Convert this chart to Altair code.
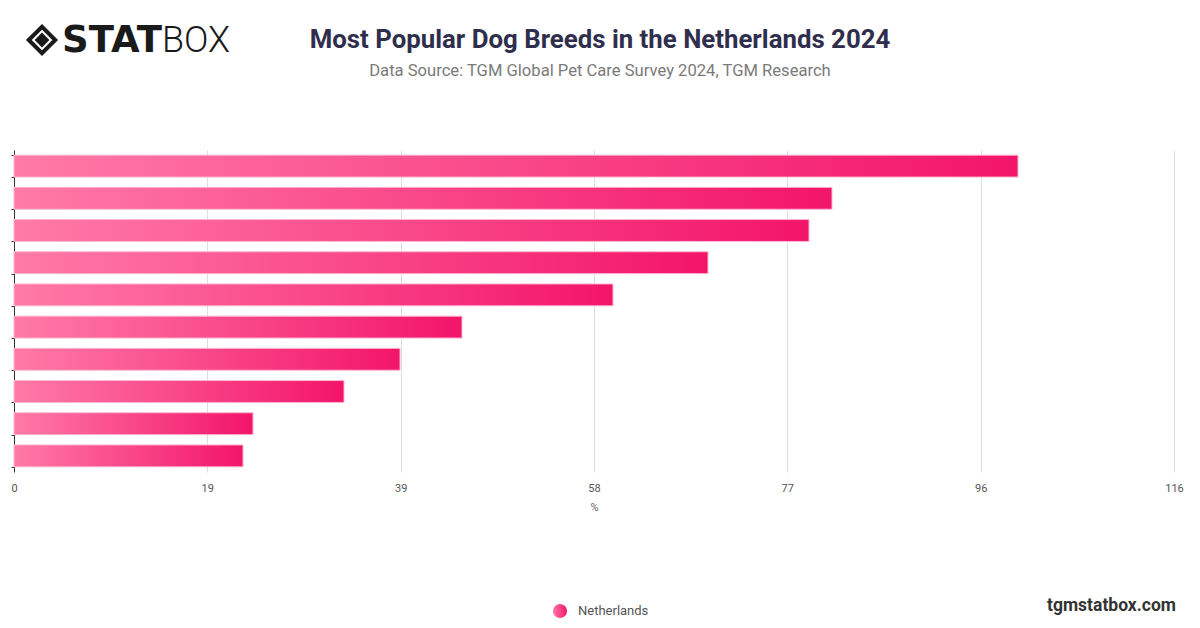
import altair as alt
import pandas as pd

# ---- data (breed names are not shown on the chart) ----
breeds = ["Labrador Retriever", "Mixed Breed", "Golden Retriever", "French Bulldog",
          "German Shepherd", "Jack Russell Terrier", "Chihuahua", "Border Collie",
          "Dachshund", "Beagle"]
values = [100.4, 81.8, 79.5, 69.4, 59.9, 44.8, 38.6, 33.0, 23.9, 22.9]
series_name = "Netherlands"

tick_values = [0, 19.33, 38.67, 58, 77.33, 96.67, 116]
tick_labels = ["0", "19", "39", "58", "77", "96", "116"]

title_text = "Most Popular Dog Breeds in the Netherlands 2024"
subtitle_text = "Data Source: TGM Global Pet Care Survey 2024, TGM Research"
watermark_text = "tgmstatbox.com"

df = pd.DataFrame({"breed": breeds, "value": values, "series": series_name})
one = pd.DataFrame({"k": [0]})

FONT = "Roboto"
PL, PT = 14, 150  # plot origin on the page

grad = alt.Gradient(
    gradient="linear",
    stops=[alt.GradientStop(color="#ff7aa7", offset=0),
           alt.GradientStop(color="#f3156a", offset=1)],
    x1=0, x2=1, y1=0, y2=0,
)

label_expr = f"{tick_labels}[indexof({tick_values}, datum.value)]"

bars = alt.Chart(df).mark_bar(
    fill=grad, stroke="#ffb6d0", strokeWidth=1, cornerRadius=0
).encode(
    x=alt.X("value:Q", title="%",
            scale=alt.Scale(domain=[0, 116], nice=False, zero=True),
            axis=alt.Axis(values=tick_values, labelExpr=label_expr, grid=True,
                          gridColor="#dedede", domain=False, ticks=False,
                          labelPadding=10, labelFont=FONT, labelFontSize=11,
                          labelColor="#555", titleFont=FONT, titleFontSize=11,
                          titleFontWeight="normal", titleColor="#666",
                          titlePadding=8, labelFlush=False)),
    y=alt.Y("breed:N", sort=breeds, title=None,
            scale=alt.Scale(paddingInner=0.32, paddingOuter=0.16),
            axis=alt.Axis(labels=False, ticks=True, tickSize=3, tickColor="#333",
                          tickBand="extent",
                          domain=True, domainColor="#333", domainWidth=1, grid=False)),
    tooltip=["breed:N", "value:Q"],
)

def txt(text, x, y, size, weight="normal", color="#333", align="center", font=FONT):
    return alt.Chart(one).mark_text(
        text=text, fontSize=size, fontWeight=weight, color=color, align=align,
        baseline="middle", font=font
    ).encode(x=alt.value(x - PL), y=alt.value(y - PT))

title = txt(title_text, 600, 40, 25.8, "bold", "#2f2e4d")
subtitle = txt(subtitle_text, 600, 71, 16.6, "normal", "#7a7a7a")
watermark = txt(watermark_text, 1176, 606, 17.5, "bold", "#333", align="right")
legend_text = txt(series_name, 578, 611, 13, "normal", "#555", align="left")

legend_dot = alt.Chart(one).mark_point(
    shape="circle", filled=True, size=200, fill=grad, opacity=1, strokeWidth=0
).encode(x=alt.value(560 - PL), y=alt.value(611 - PT))

# logo
logo_outer = alt.Chart(one).mark_point(
    shape="diamond", filled=False, size=700, stroke="#1a1a1a", strokeWidth=4, opacity=1
).encode(x=alt.value(42 - PL), y=alt.value(40 - PT))
logo_inner = alt.Chart(one).mark_point(
    shape="diamond", filled=True, size=220, fill="#1a1a1a", opacity=1
).encode(x=alt.value(42 - PL), y=alt.value(40 - PT))
logo_stat = txt("STAT", 62, 41, 37, 900, "#1a1a1a", align="left", font="DejaVu Sans")
logo_box = txt("BOX", 162, 41, 36, 300, "#1a1a1a", align="left")

chart = alt.layer(
    bars, title, subtitle, watermark, legend_dot, legend_text,
    logo_outer, logo_inner, logo_stat, logo_box
).properties(
    width=1160, height=322,
    padding={"left": PL - 8, "top": PT - 8, "right": 10, "bottom": 150},
    autosize=alt.AutoSizeParams(type="none"),
).configure(background="white").configure_view(stroke=None)

chart.save("out.html", embed_options={"renderer": "svg", "actions": False})
